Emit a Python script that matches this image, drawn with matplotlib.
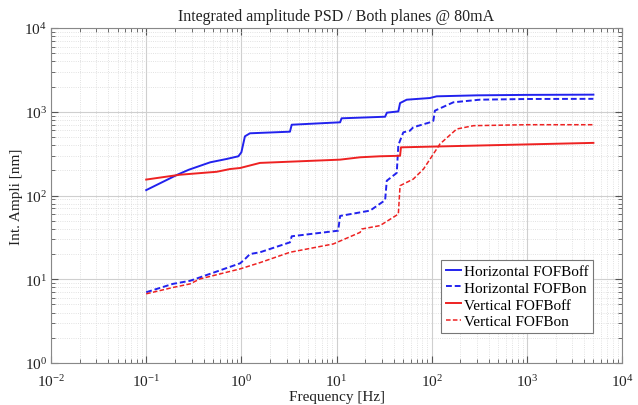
import matplotlib
matplotlib.use("Agg")
import matplotlib.pyplot as plt
from matplotlib.ticker import LogLocator, NullFormatter

# ---- data ----
h_off_f = [0.1, 0.21, 0.28, 0.47, 0.70, 0.93, 1.0, 1.09, 1.23, 3.24, 3.38, 10.9, 11.3,
           32.4, 33.8, 44.6, 46.5, 54.6, 95.6, 112.7, 300, 1000, 5000]
h_off_v = [116, 176, 203, 249, 273, 294, 328, 509, 553, 578, 700, 748, 835,
           872, 975, 1010, 1270, 1393, 1458, 1528, 1570, 1590, 1600]

h_on_f = [0.1, 0.19, 0.29, 0.33, 0.97, 1.09, 1.23, 1.57, 3.24, 3.38, 10.4, 10.9, 22.5,
          32.4, 33.7, 42.9, 44.6, 46.5, 50.3, 59, 64, 96, 104, 108, 169, 321, 1000, 5000]
h_on_v = [7.0, 8.8, 9.6, 10.1, 15.5, 17.4, 20, 21, 27.6, 32.6, 38, 57, 66,
          88, 150, 186, 400, 452, 568, 594, 652, 748, 780, 1030, 1297, 1393, 1420, 1426]

v_off_f = [0.1, 0.226, 0.55, 0.76, 0.97, 1.57, 10.9, 17.7, 28.6, 46.5, 47.5, 5000]
v_off_v = [155, 177, 192, 207, 213, 245, 268, 286, 294, 298, 376, 425]

v_on_f = [0.1, 0.193, 0.288, 0.368, 0.97, 1.57, 3.24, 9.25, 17.7, 18.4, 28.6, 44.6, 46.5,
          64, 82, 122, 183, 275, 1000, 5000]
v_on_v = [6.7, 8.0, 8.8, 10.1, 13.3, 15.8, 21, 26.4, 36.3, 39.8, 43.7, 60, 131,
          157, 207, 412, 622, 682, 700, 700]

labels = ["Horizontal FOFBoff", "Horizontal FOFBon", "Vertical FOFBoff", "Vertical FOFBon"]
title = "Integrated amplitude PSD / Both planes @ 80mA"

plt.rcParams['font.family'] = ['Liberation Serif', 'DejaVu Serif']
plt.rcParams['mathtext.fontset'] = 'custom'
plt.rcParams['mathtext.rm'] = 'Liberation Serif'
plt.rcParams['mathtext.it'] = 'Liberation Serif:italic'

fig = plt.figure(figsize=(6.38, 4.06), dpi=100)
ax = fig.add_axes([0.080, 0.1034, 0.895, 0.8252])

blue = '#2222ee'
red = '#ee2222'
ax.plot(h_off_f, h_off_v, color=blue, lw=1.4, ls='-', label=labels[0])
ax.plot(h_on_f, h_on_v, color=blue, lw=1.4, ls=(0, (3, 1.5)), label=labels[1])
ax.plot(v_off_f, v_off_v, color=red, lw=1.4, ls='-', label=labels[2])
ax.plot(v_on_f, v_on_v, color=red, lw=1.1, ls=(0, (3, 1.5)), label=labels[3])

ax.set_xscale('log')
ax.set_yscale('log')
ax.set_xlim(1e-2, 1e4)
ax.set_ylim(1e0, 1e4)
ax.xaxis.set_major_locator(LogLocator(base=10, numticks=20))
ax.yaxis.set_major_locator(LogLocator(base=10, numticks=20))
ax.xaxis.set_minor_locator(LogLocator(base=10, subs=range(2, 10), numticks=20))
ax.yaxis.set_minor_locator(LogLocator(base=10, subs=range(2, 10), numticks=20))
ax.xaxis.set_minor_formatter(NullFormatter())
ax.yaxis.set_minor_formatter(NullFormatter())

ax.grid(True, which='major', color='#cfcfcf', lw=0.8, ls='-')
ax.grid(True, which='minor', color='#d8d8d8', lw=0.6, ls=':')
ax.set_axisbelow(True)
ax.tick_params(which='both', direction='in', top=True, right=True, colors='#555555',
               labelcolor='#222222', labelsize=11)
ax.tick_params(axis='x', which='major', pad=7)
ax.tick_params(axis='y', which='major', pad=3)
ax.tick_params(which='major', length=5)
ax.tick_params(which='minor', length=3)
for s in ax.spines.values():
    s.set_color('#888888')

ax.set_title(title, fontsize=11.5, color='#222222', pad=6)
ax.set_xlabel("Frequency [Hz]", fontsize=11, color='#222222', labelpad=1)
ax.set_ylabel("Int. Ampli [nm]", fontsize=11, color='#222222', labelpad=1)

leg = ax.legend(loc='lower right', bbox_to_anchor=(0.95, 0.09), borderaxespad=0,
                fontsize=11, fancybox=False, framealpha=1, edgecolor='#777777',
                handlelength=1.0, handletextpad=0.2, borderpad=0.3, labelspacing=0.2)
leg.get_frame().set_linewidth(0.8)

fig.savefig("out.png", dpi=100)
